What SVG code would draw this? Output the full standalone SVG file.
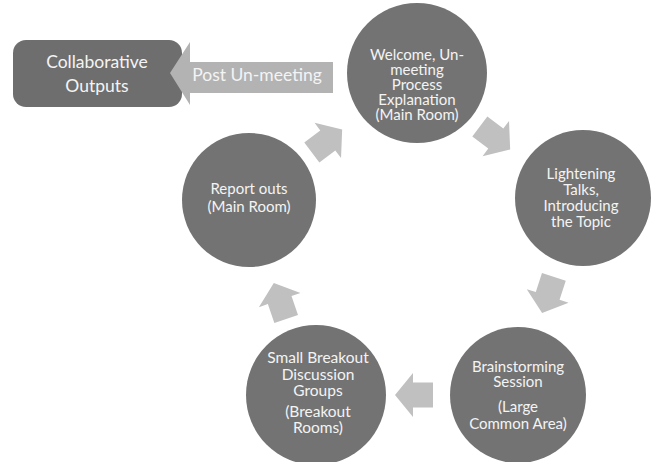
<svg xmlns="http://www.w3.org/2000/svg" width="653" height="462" viewBox="0 0 653 462">
<defs>
<style>
.node{fill:#737373}
.arr{fill:#c0c0c0}
.t{font-family:Lato,"Open Sans","Liberation Sans",sans-serif;font-size:15px;fill:#f4f4f4;text-anchor:middle}
.big{font-size:17.5px}
.lg{font-size:15.5px}
</style>
<path id="blk" d="M19,0 L1,-22 L1,-12.5 L-19,-12.5 L-19,12.5 L1,12.5 L1,22 Z"/>
</defs>
<rect width="653" height="462" fill="#ffffff"/>
<g id="connectors">
<use href="#blk" class="arr" transform="translate(495,138) rotate(37)"/>
<use href="#blk" class="arr" transform="translate(548,295) rotate(108)"/>
<use href="#blk" class="arr" transform="translate(414,395) rotate(180)"/>
<use href="#blk" class="arr" transform="translate(280,301) rotate(251)"/>
<use href="#blk" class="arr" transform="translate(327,141) rotate(-37)"/>
</g>
<g id="collab">
<rect x="13" y="40" width="169" height="67" rx="13" ry="13" fill="#6e6e6e"/>
<text class="t big" x="97" y="68">Collaborative</text>
<text class="t big" x="97" y="92">Outputs</text>
</g>
<g id="post">
<path d="M170,73 L190,42 L190,62 L333,62 L333,93 L190,93 L190,105 Z" fill="#b3b3b3"/>
<text class="t big" x="257" y="81">Post Un-meeting</text>
</g>
<g id="welcome">
<circle class="node" cx="417" cy="73" r="70"/>
<text class="t" x="417" y="59.5">Welcome, Un-</text>
<text class="t" x="417" y="74.7">meeting</text>
<text class="t" x="417" y="89.9">Process</text>
<text class="t" x="417" y="105.1">Explanation</text>
<text class="t" x="417" y="120.3">(Main Room)</text>
</g>
<g id="lightening">
<circle class="node" cx="583" cy="198" r="68"/>
<text class="t" x="581" y="179">Lightening</text>
<text class="t" x="581" y="195">Talks,</text>
<text class="t" x="581" y="211">Introducing</text>
<text class="t" x="581" y="227">the Topic</text>
</g>
<g id="brainstorming">
<circle class="node" cx="518" cy="395" r="68"/>
<text class="t" x="518" y="372">Brainstorming</text>
<text class="t" x="518" y="387">Session</text>
<text class="t" x="518" y="412">(Large</text>
<text class="t" x="518" y="429">Common Area)</text>
</g>
<g id="breakout">
<circle class="node" cx="316" cy="395" r="70"/>
<text class="t lg" x="318" y="363">Small Breakout</text>
<text class="t lg" x="318" y="380">Discussion</text>
<text class="t lg" x="318" y="396">Groups</text>
<text class="t lg" x="318" y="417">(Breakout</text>
<text class="t lg" x="318" y="433">Rooms)</text>
</g>
<g id="report">
<circle class="node" cx="249" cy="200" r="67"/>
<text class="t" x="249" y="194">Report outs</text>
<text class="t" x="249" y="212">(Main Room)</text>
</g>
</svg>
